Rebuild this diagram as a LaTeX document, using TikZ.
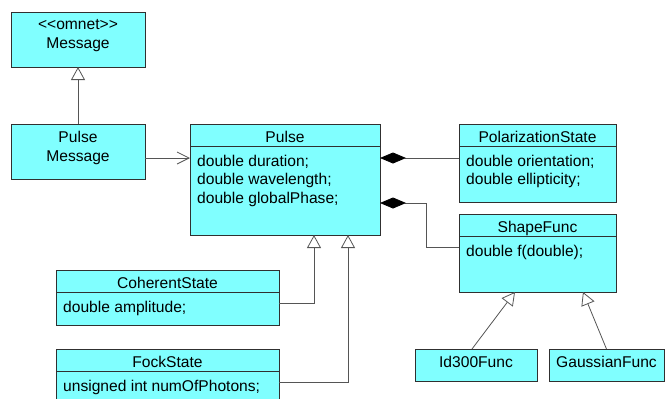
\documentclass[tikz,border=0pt]{standalone}
\usepackage{fontspec}
\setmainfont{Liberation Sans}
\usetikzlibrary{arrows.meta,positioning}
\definecolor{umlcyan}{HTML}{80FFFF}
\definecolor{umlbord}{HTML}{303030}
\definecolor{umlline}{HTML}{555555}
\begin{document}
\begin{tikzpicture}[x=1pt,y=-1pt,
        every node/.style={font=\fontsize{15.6}{18.9}\selectfont},
        box/.style={draw=umlbord,fill=umlcyan,line width=0.9pt,inner sep=0pt,outer sep=0pt},
        head/.style={box,minimum height=22pt,text height=14.6pt,text depth=0pt},
        leaf/.style={box,minimum height=32pt,text height=11.2pt,text depth=6.8pt},
        cls/.style={box,minimum width=134pt,minimum height=55pt,align=center,text depth=10.3pt},
        attr/.style={anchor=north west,align=left,inner xsep=7pt,inner ysep=8.5pt},
        inh/.style={draw=umlline,line width=0.8pt,-{Triangle[length=13pt,width=14pt,fill=white]}},
        assoc/.style={draw=umlline,line width=0.8pt,-{Straight Barb[length=12pt,width=12pt]}},
        comp/.style={draw=umlline,line width=0.8pt,-{Diamond[length=26pt,width=11pt,color=black,fill=black]}}]
        \useasboundingbox(0,0)rectangle(667,399);
        \clip(0,0)rectangle(667,399);
        \node[cls](msg)at(78,39.5){<\kern0pt<omnet>\kern0pt>\\Message};
        \node[cls](pmsg)at(78,151.5){Pulse\\Message};
        \node[head,minimum width=190pt](pulse)at(285,135){Pulse};
        \node[box,minimum width=190pt,minimum height=89pt,below=0pt of pulse](pulseb){};
        \node[attr](pulsea)at(pulseb.north west){double duration;\\double wavelength;\\double globalPhase;};
        \node[head,minimum width=157pt](pol)at(537.5,135){PolarizationState};
        \node[box,minimum width=157pt,minimum height=56pt,below=0pt of pol](polb){};
        \node[attr](pola)at(polb.north west){double orientation;\\double ellipticity;};
        \node[head,minimum width=157pt](shape)at(537.5,225.5){ShapeFunc};
        \node[box,minimum width=157pt,minimum height=55.5pt,below=0pt of shape](shapeb){};
        \node[attr](shapea)at(shapeb.north west){double f(double);};
        \node[head,minimum width=223pt](coh)at(167.5,281){CoherentState};
        \node[box,minimum width=223pt,minimum height=33pt,below=0pt of coh](cohb){};
        \node[attr](coha)at(cohb.north west){double amplitude;};
        \node[head,minimum width=223pt](fock)at(167.5,360){FockState};
        \node[box,minimum width=223pt,minimum height=33pt,below=0pt of fock](fockb){};
        \node[attr](focka)at(fockb.north west){unsigned int numOfPhotons;};
        \node[leaf,minimum width=122pt](id)at(476,365){Id300Func};
        \node[leaf,minimum width=115pt](gauss)at(606.5,365){GaussianFunc};
        % connectors
        \coordinate(pmk)at([yshift=-6.5pt]pmsg.east);
        \coordinate(polk)at([yshift=16pt]polb.west);
        \coordinate(shk)at([yshift=17.25pt]shapeb.west);
        \coordinate(pulk)at([yshift=-12.5pt]pulseb.east);
        \draw[inh](pmsg)--(msg);
        \draw[assoc](pmk)--(pmk-|pulseb.west);
        \draw[comp](polk)--(polk-|pulseb.east);
        \draw[comp](shk)--++(-33,0)|-(pulk);
        \draw[inh]([yshift=5.5pt]cohb.east)-|([xshift=29pt]pulseb.south);
        \draw[inh]([yshift=5.5pt]fockb.east)-|([xshift=63pt]pulseb.south);
        \draw[inh]([xshift=-4pt]id.north)--([xshift=-22.5pt]shapeb.south);
        \draw[inh](gauss.north)--([xshift=45.5pt]shapeb.south);
    \end{tikzpicture}
\end{document}
